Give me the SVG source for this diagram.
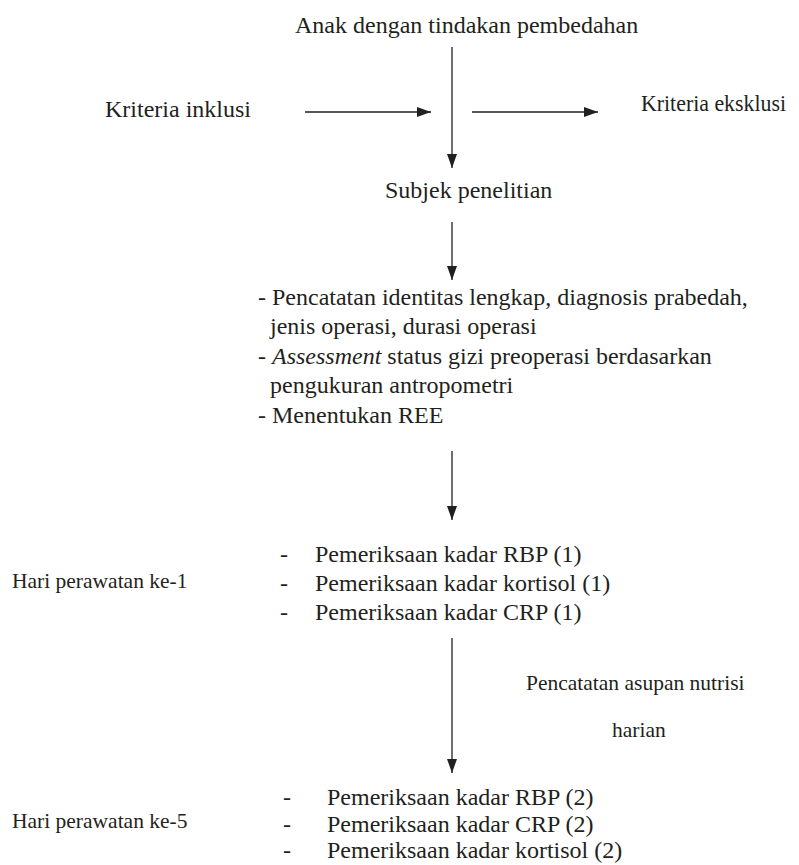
<svg xmlns="http://www.w3.org/2000/svg" width="799" height="865" viewBox="0 0 799 865">
<style>
text{font-family:"Liberation Serif","Times New Roman",serif;fill:#231f20;font-size:24px}
.sm{font-size:21.5px}
.con{stroke:#231f20;stroke-width:1.3;fill:none;marker-end:url(#ah)}
</style>
<defs>
<marker id="ah" markerUnits="userSpaceOnUse" markerWidth="14" markerHeight="10" refX="14" refY="5" orient="auto">
<path d="M0,0 L14,5 L0,10 z" fill="#231f20"/>
</marker>
</defs>
<rect width="799" height="865" fill="#fff"/>
<g id="connectors">
<path class="con" d="M452,47 V168"/>
<path class="con" d="M305,112 H431"/>
<path class="con" d="M472,112 H598"/>
<path class="con" d="M452,222 V280"/>
<path class="con" d="M452,451 V520"/>
<path class="con" d="M452,638 V773"/>
</g>
<g id="n-anak"><text x="295" y="33">Anak dengan tindakan pembedahan</text></g>
<g id="n-inklusi"><text x="105" y="117">Kriteria inklusi</text></g>
<g id="n-eksklusi"><text x="641" y="111" textLength="145" lengthAdjust="spacingAndGlyphs">Kriteria eksklusi</text></g>
<g id="n-subjek"><text x="385" y="198">Subjek penelitian</text></g>
<g id="n-pencatatan">
<text x="258" y="305">- Pencatatan identitas lengkap, diagnosis prabedah,</text>
<text x="270" y="334">jenis operasi, durasi operasi</text>
<text x="258" y="364">- <tspan font-style="italic">Assessment</tspan> status gizi preoperasi berdasarkan</text>
<text x="270" y="393">pengukuran antropometri</text>
<text x="258" y="423">- Menentukan REE</text>
</g>
<g id="n-hari1"><text class="sm" x="12" y="588">Hari perawatan ke-1</text></g>
<g id="n-periksa1">
<text x="280" y="562">-</text><text x="315" y="562">Pemeriksaan kadar RBP (1)</text>
<text x="280" y="591">-</text><text x="315" y="591">Pemeriksaan kadar kortisol (1)</text>
<text x="280" y="620">-</text><text x="315" y="620">Pemeriksaan kadar CRP (1)</text>
</g>
<g id="n-asupan">
<text class="sm" x="526" y="690">Pencatatan asupan nutrisi</text>
<text class="sm" x="612" y="737">harian</text>
</g>
<g id="n-hari5"><text class="sm" x="12" y="828">Hari perawatan ke-5</text></g>
<g id="n-periksa2">
<text x="283" y="805">-</text><text x="327" y="805">Pemeriksaan kadar RBP (2)</text>
<text x="283" y="832">-</text><text x="327" y="832">Pemeriksaan kadar CRP (2)</text>
<text x="283" y="858">-</text><text x="327" y="858">Pemeriksaan kadar kortisol (2)</text>
</g>
</svg>
